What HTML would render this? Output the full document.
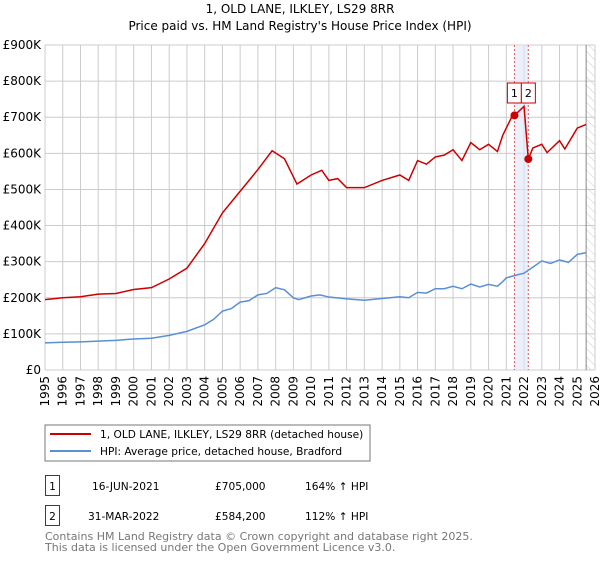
<!DOCTYPE html>
<html><head><meta charset="utf-8"><style>
body{margin:0;background:#fff;font-family:"DejaVu Sans","Liberation Sans",sans-serif;}
svg text{font-family:"DejaVu Sans","Liberation Sans",sans-serif;}
</style></head><body>
<svg id="c" width="600" height="560" xmlns="http://www.w3.org/2000/svg">
<defs><pattern id="hatch" width="6" height="6" patternUnits="userSpaceOnUse" patternTransform="rotate(-45)"><line x1="0" y1="0" x2="0" y2="6" stroke="#ccc" stroke-width="1"/></pattern></defs>
<text x="300" y="13" text-anchor="middle" font-size="12">1, OLD LANE, ILKLEY, LS29 8RR</text>
<text x="300" y="30" text-anchor="middle" font-size="12">Price paid vs. HM Land Registry's House Price Index (HPI)</text>
<g id="grid"></g><g id="marks"></g><g id="axes"></g>
<rect x="45" y="425" width="325" height="36" fill="#fff" stroke="#777"/>
<line x1="50" y1="434" x2="91" y2="434" stroke="#cc0000" stroke-width="2"/>
<text x="100" y="438" font-size="10.6">1, OLD LANE, ILKLEY, LS29 8RR (detached house)</text>
<line x1="50" y1="451" x2="91" y2="451" stroke="#5b8fd4" stroke-width="2"/>
<text x="100" y="455" font-size="10.6">HPI: Average price, detached house, Bradford</text>
<g>
<rect x="45.5" y="475.5" width="14" height="20" fill="#fff" stroke="#cc0000"/><text x="52.5" y="490" text-anchor="middle" font-size="10.6">1</text>
<text x="92" y="490" font-size="10.6">16-JUN-2021</text><text x="215" y="490" font-size="10.6">£705,000</text><text x="305" y="490" font-size="10.6">164% ↑ HPI</text></g>
<g>
<rect x="45.5" y="505.5" width="14" height="20" fill="#fff" stroke="#cc0000"/><text x="52.5" y="520" text-anchor="middle" font-size="10.6">2</text>
<text x="88" y="520" font-size="10.6">31-MAR-2022</text><text x="215" y="520" font-size="10.6">£584,200</text><text x="305" y="520" font-size="10.6">112% ↑ HPI</text></g>
<text x="45" y="540" font-size="11" fill="#777">Contains HM Land Registry data © Crown copyright and database right 2025.</text>
<text x="45" y="551" font-size="11" fill="#777">This data is licensed under the Open Government Licence v3.0.</text>
</svg>
<script>
const years=[1995,1996,1997,1998,1999,2000,2001,2002,2003,2004,2005,2006,2007,2008,2009,2010,2011,2012,2013,2014,2015,2016,2017,2018,2019,2020,2021,2022,2023,2024,2025,2026];
const yTicks=[0,100000,200000,300000,400000,500000,600000,700000,800000,900000];
const yLabels=["£0","£100K","£200K","£300K","£400K","£500K","£600K","£700K","£800K","£900K"];
const hpiT=[1995,1996,1997,1998,1999,2000,2001,2002,2003,2004,2004.5,2005,2005.5,2006,2006.5,2007,2007.5,2008,2008.5,2009,2009.3,2010,2010.5,2011,2012,2013,2014,2015,2015.5,2016,2016.5,2017,2017.5,2018,2018.5,2019,2019.5,2020,2020.5,2020.8,2021,2021.5,2022,2022.5,2023,2023.5,2024,2024.5,2025,2025.5];
const hpiV=[75,77,78,80,82,86,88,96,107,125,140,163,170,188,192,208,212,228,222,200,195,205,208,202,197,193,198,203,200,215,213,225,225,232,225,238,230,237,232,245,255,262,268,285,302,295,305,298,320,325];
const propT=[1995,1996,1997,1998,1999,2000,2001,2002,2003,2004,2005,2006,2007,2007.8,2008.5,2009.2,2010,2010.6,2011,2011.5,2012,2013,2014,2015,2015.5,2016,2016.5,2017,2017.5,2018,2018.5,2019,2019.5,2020,2020.5,2020.8,2021.3,2021.46,2022,2022.24,2022.5,2023,2023.3,2024,2024.3,2025,2025.5];
const propV=[195,200,203,210,212,223,228,252,282,350,435,495,555,607,585,515,540,553,525,530,505,505,525,540,525,580,570,590,595,610,580,630,610,625,605,650,700,705,730,584.2,615,625,602,635,612,670,680];
const saleT=[2021.46,2022.24];
const saleV=[705,584.2];
const saleLabels=["1","2"];
const NS="http://www.w3.org/2000/svg";
const X=t=>45+(t-1995)*550/31, Y=v=>370-v*325/900000;
function mk(tag,attrs,parent){const e=document.createElementNS(NS,tag);for(const k in attrs)e.setAttribute(k,attrs[k]);parent.appendChild(e);return e;}
const grid=document.getElementById('grid'),marks=document.getElementById('marks'),axes=document.getElementById('axes');
mk('rect',{x:45,y:45,width:550,height:325,fill:'#fff'},grid);
years.forEach(y=>{const l=mk('line',{x1:X(y),x2:X(y),y1:45,y2:370,stroke:'#ccc'},grid);


const t=mk('text',{x:0,y:0,'font-size':12,'text-anchor':'end',transform:`translate(${X(y)+4},376) rotate(-90)`},axes);t.textContent=y;

});
yTicks.forEach((v,i)=>{const l=mk('line',{x1:45,x2:595,y1:Y(v),y2:Y(v),stroke:'#ccc'},grid);


const t=mk('text',{x:41,y:Y(v)+4,'font-size':12,'text-anchor':'end'},axes);t.textContent=yLabels[i];

});
const hx=X(2025.5);
const h=mk('rect',{x:hx,y:45,width:595-hx,height:325,fill:'url(#hatch)'},grid);


mk('line',{x1:hx,x2:hx,y1:45,y2:370,stroke:'#888'},grid);
const band=mk('rect',{x:X(saleT[0]),y:45,width:X(saleT[1])-X(saleT[0]),height:325,fill:'#dde6f7',opacity:0.6},grid);


saleT.forEach(t=>{const l=mk('line',{x1:X(t),x2:X(t),y1:45,y2:370,stroke:'#e55','stroke-dasharray':'2,2'},grid);

});
const hp=mk('polyline',{points:hpiT.map((t,i)=>X(t)+','+Y(hpiV[i]*1000)).join(' '),fill:'none',stroke:'#5b8fd4','stroke-width':1.5},marks);


const pp=mk('polyline',{points:propT.map((t,i)=>X(t)+','+Y(propV[i]*1000)).join(' '),fill:'none',stroke:'#cc0000','stroke-width':1.5},marks);


const mid=(X(saleT[0])+X(saleT[1]))/2;
saleT.forEach((t,i)=>{const c=mk('circle',{cx:X(t),cy:Y(saleV[i]*1000),r:4,fill:'#cc0000'},marks);


const bx=i==0?mid-14:mid;
mk('rect',{x:bx,y:83,width:14,height:20,fill:'#fff',stroke:'#cc0000'},marks);
const tt=mk('text',{x:bx+7,y:97,'font-size':11,'text-anchor':'middle'},marks);tt.textContent=saleLabels[i];

});
</script>
</body></html>
